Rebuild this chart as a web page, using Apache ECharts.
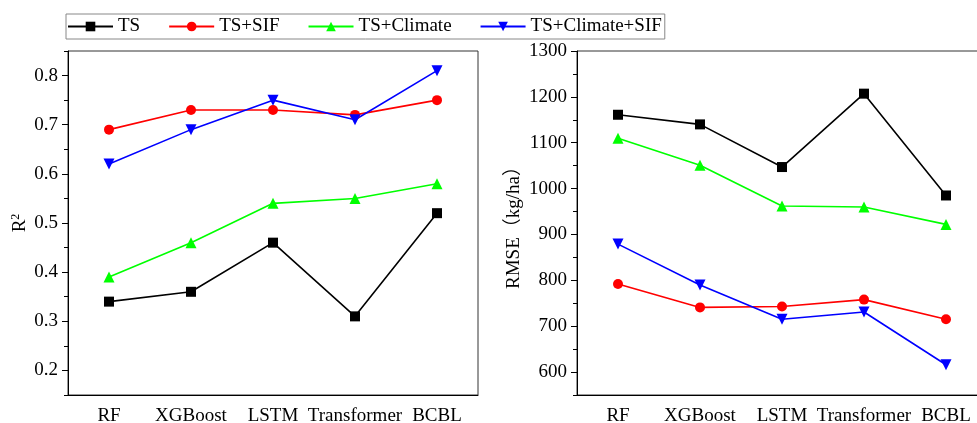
<!DOCTYPE html>
<html>
<head>
<meta charset="utf-8">
<script src="https://cdn.jsdelivr.net/npm/echarts@6/dist/echarts.min.js"></script>
<style>
  html, body { margin: 0; padding: 0; background: #fff; }
  #chart { width: 977px; height: 423px; }
</style>
</head>
<body>
<div id="chart"></div>
<script>
// Models compared
const models = ['RF', 'XGBoost', 'LSTM', 'Transformer', 'BCBL'];
const seriesNames = ['TS', 'TS+SIF', 'TS+Climate', 'TS+Climate+SIF'];

// R² per feature combination
const r2TS = [0.34, 0.36, 0.46, 0.31, 0.52];
const r2TSSIF = [0.69, 0.73, 0.73, 0.72, 0.75];
const r2TSClimate = [0.39, 0.46, 0.54, 0.55, 0.58];
const r2TSClimateSIF = [0.62, 0.69, 0.75, 0.71, 0.81];

// RMSE (kg/ha) per feature combination
const rmseTS = [1161, 1140, 1047, 1207, 985];
const rmseTSSIF = [792, 741, 743, 758, 715];
const rmseTSClimate = [1110, 1051, 962, 960, 922];
const rmseTSClimateSIF = [879, 790, 715, 731, 616];

// Axis ticks
const r2Ticks = [0.2, 0.3, 0.4, 0.5, 0.6, 0.7, 0.8];
const r2MinorTicks = [0.15, 0.25, 0.35, 0.45, 0.55, 0.65, 0.75, 0.85];
const rmseTicks = [600, 700, 800, 900, 1000, 1100, 1200, 1300];
const rmseMinorTicks = [550, 650, 750, 850, 950, 1050, 1150, 1250];

const FONT = '"Liberation Serif", "Times New Roman", "Noto Sans CJK SC", serif';
const colors = ['#000000', '#ff0000', '#00ff00', '#0000ff'];
const symbols = ['rect', 'circle', 'triangle', 'path://M0,0 L10,0 L5,9 Z'];
const symbolSizes = [10, 10, 11, 11];

const grids = [
  { left: 68, top: 51, right: 499, bottom: 28 },
  { left: 577, top: 51, right: -10, bottom: 28 }
];

function xAxes(gridIndex) {
  return [
    {
      type: 'category', gridIndex, data: models, boundaryGap: true,
      axisLine: { lineStyle: { color: '#000', width: 1 } },
      axisTick: { alignWithLabel: true, length: 6, lineStyle: { color: '#000' } },
      axisLabel: { color: '#000', fontFamily: FONT, fontSize: 19, margin: 12, interval: 0 }
    },
    {
      type: 'category', gridIndex, data: models, boundaryGap: true,
      axisLine: { show: false },
      axisTick: { alignWithLabel: false, length: 4, interval: 0, lineStyle: { color: '#000' } },
      axisLabel: { show: false }
    }
  ];
}

function yAxes(gridIndex, min, max, ticks, minor, name, gap, fmt) {
  return [
    {
      type: 'value', gridIndex, min, max, position: 'left',
      name, nameLocation: 'middle', nameGap: gap, nameRotate: 90,
      nameTextStyle: {
        color: '#000', fontFamily: FONT, fontSize: 19,
        rich: { sup: { fontFamily: FONT, fontSize: 12, verticalAlign: 'top', padding: [0, 0, 8, 0] } }
      },
      splitLine: { show: false },
      axisLine: { show: true, lineStyle: { color: '#000', width: 1 } },
      axisTick: { show: true, length: 6, customValues: ticks, lineStyle: { color: '#000' } },
      axisLabel: { color: '#000', fontFamily: FONT, fontSize: 19, margin: 10,
        customValues: ticks, formatter: fmt }
    },
    {
      type: 'value', gridIndex, min, max, position: 'left',
      splitLine: { show: false },
      axisLine: { show: false },
      axisTick: { show: true, length: 4, customValues: minor, lineStyle: { color: '#000' } },
      axisLabel: { show: false }
    }
  ];
}

function makeSeries(dataSets, xIdx, yIdx) {
  return dataSets.map((d, i) => ({
    name: seriesNames[i], type: 'line', data: d,
    xAxisIndex: xIdx, yAxisIndex: yIdx,
    symbol: symbols[i], symbolSize: symbolSizes[i],
    itemStyle: { color: colors[i] },
    lineStyle: { color: colors[i], width: 1.6 },
    emphasis: { disabled: true },
    animation: false
  }));
}

const chart = echarts.init(document.getElementById('chart'));
chart.setOption({
  backgroundColor: '#fff',
  animation: false,
  legend: {
    data: seriesNames,
    left: 66, top: 14,
    padding: [3, 3, 3, 1],
    itemWidth: 45, itemHeight: 12, itemGap: 28,
    borderColor: '#888', borderWidth: 1,
    textStyle: { color: '#000', fontFamily: FONT, fontSize: 19 }
  },
  grid: grids.map(g => Object.assign({
    show: true, borderColor: '#333', borderWidth: 1,
    containLabel: false, outerBoundsMode: 'none'
  }, g)),
  xAxis: [...xAxes(0), ...xAxes(1)],
  yAxis: [
    ...yAxes(0, 0.15, 0.85, r2Ticks, r2MinorTicks, 'R{sup|2}', 38, v => v.toFixed(1)),
    ...yAxes(1, 550, 1300, rmseTicks, rmseMinorTicks, 'RMSE（kg/ha）', 53, v => String(v))
  ],
  series: [
    ...makeSeries([r2TS, r2TSSIF, r2TSClimate, r2TSClimateSIF], 0, 0),
    ...makeSeries([rmseTS, rmseTSSIF, rmseTSClimate, rmseTSClimateSIF], 2, 2)
  ]
});
</script>
</body>
</html>
